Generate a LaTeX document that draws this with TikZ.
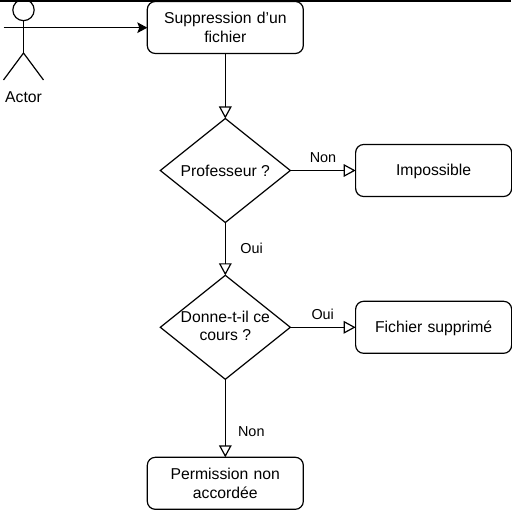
\documentclass[tikz,border=0pt]{standalone}
\usepackage{fontspec}
\setmainfont{Liberation Sans}
\usetikzlibrary{positioning}
\usetikzlibrary{arrows.meta}
\usetikzlibrary{shapes.geometric}
\tikzset{step node/.style={rectangle,rounded corners=6pt,draw,line width=0.9pt,outer sep=0pt,text width=110pt,align=center,minimum width=117pt,minimum height=39pt,inner sep=0pt,font=\fontsize{11.8}{13.7}\selectfont}}
\tikzset{test node/.style={diamond,draw,line width=0.9pt,outer sep=0pt,minimum width=97.5pt,minimum height=78pt,inner sep=0pt}}
\tikzset{test text/.style={inner sep=0pt,align=center,font=\fontsize{11.8}{13.7}\selectfont}}
\tikzset{flow/.style={draw,line width=0.9pt,-{Triangle[open,length=9pt,width=9.5pt]}}}
\tikzset{edge label/.style={inner sep=0pt,font=\fontsize{10.8}{13}\selectfont}}
\begin{document}
\begin{tikzpicture}[x=0.75pt,y=-0.75pt]
    \useasboundingbox (0,0) rectangle (511,520);
    \coordinate (top_l) at (0,0.8);
    \coordinate (top_r) at (511,0.8);
    \draw[line width=1.2pt] (top_l) -- (top_r);
    % actor
    \node[draw,circle,line width=0.9pt,outer sep=0pt,minimum size=16pt,inner sep=0pt] (head) at (23.5,10) {};
    \coordinate (hip) at (23.5,53);
    \coordinate (arm_l) at (3.5,27.7);
    \coordinate (arm_r) at (43.5,27.7);
    \coordinate (foot_l) at (3.5,80);
    \coordinate (foot_r) at (43.5,80);
    \draw[line width=0.9pt] (head.south) -- (hip);
    \draw[line width=0.9pt] (foot_l) -- (hip) -- (foot_r);
    \draw[line width=0.9pt] (arm_l) -- (arm_r);
    \node[edge label,font=\fontsize{11.8}{13.7}\selectfont] (actor) at (23.5,97) {Actor};

    \node[step node] (v_{1}) at (225.3,27.5) {Suppression d'un\\fichier};
    \node[test node,label={[test text]center:Professeur ?}] (v_{2}) [below = 48.75pt of v_{1}] {};
    \node[step node,text height=10.2pt] (v_{3}) [right = 49pt of v_{2}] {Impossible};
    \node[test node,label={[test text,yshift=1pt]center:Donne-t-il ce\\cours ?}] (v_{4}) [below = 39.6pt of v_{2}] {};
    \node[step node,text height=10.2pt] (v_{5}) [right = 49pt of v_{4}] {Fichier supprimé};
    \node[step node] (v_{6}) [below = 58.5pt of v_{4}] {Permission non\\accordée};

    \draw[line width=0.9pt,-{Stealth[length=7.5pt,width=8pt,inset=1.5pt]}] (arm_r) -- (v_{1}.west |- arm_r);
    \draw[flow] (v_{1}) -- (v_{2});
    \draw[flow] (v_{2}) -- (v_{3});
    \draw[flow] (v_{2}) -- (v_{4});
    \draw[flow] (v_{4}) -- (v_{5});
    \draw[flow] (v_{4}) -- (v_{6});

    \node[edge label] (non_1) at (323,157.5) {Non};
    \node[edge label] (oui_1) at (251.5,248.5) {Oui};
    \node[edge label] (oui_2) at (322.7,314) {Oui};
    \node[edge label] (non_2) at (251.3,431.3) {Non};
\end{tikzpicture}
\end{document}
